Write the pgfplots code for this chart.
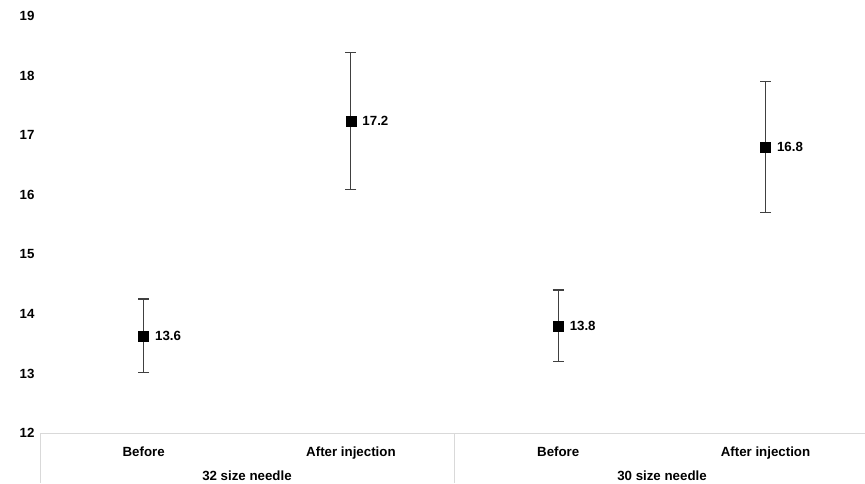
\documentclass[border=0pt]{standalone}
\usepackage{pgfplots}
\pgfplotsset{compat=1.18}
\usepackage{fontspec}
\setmainfont{Liberation Sans}
\definecolor{sepgray}{HTML}{D9D9D9}
\definecolor{errgray}{HTML}{404040}
\begin{document}
\begin{tikzpicture}[x=1pt,y=1pt]
\begin{axis}[
  at={(40pt,50pt)}, anchor=south west,
  scale only axis, width=825pt, height=417pt,
  xmin=-0.5, xmax=3.48, ymin=12, ymax=19,
  axis line style={draw=none},
  ytick={12,...,19},
  xtick={0,1,2,3},
  xticklabels={Before,After injection,Before,After injection},
  major tick length=0pt,
  font=\fontsize{13.3pt}{15pt}\selectfont\bfseries,
  /pgf/number format/assume math mode=true,
  yticklabel style={xshift=-2pt},
  xticklabel style={yshift=-10pt},
  clip=false,
]
\addplot[only marks, mark=square*, mark size=5pt, black,
  error bars/.cd, y dir=both, y explicit,
  error bar style={errgray, line width=0.9pt},
  error mark options={rotate=90, errgray, line width=1.3pt, mark size=5.5pt},
] coordinates {
  (0,13.63) +- (0,0.62)
  (1,17.24) +- (0,1.15)
  (2,13.80) +- (0,0.60)
  (3,16.80) +- (0,1.10)
};
\node[anchor=west] at ([xshift=8pt]axis cs:0,13.63) {13.6};
\node[anchor=west] at ([xshift=8pt]axis cs:1,17.24) {17.2};
\node[anchor=west] at ([xshift=8pt]axis cs:2,13.80) {13.8};
\node[anchor=west] at ([xshift=8pt]axis cs:3,16.80) {16.8};
\end{axis}
\draw[sepgray, line width=1pt] (40,0) -- (40,50) -- (865,50);
\draw[sepgray, line width=1pt] (454.6,0) -- (454.6,50);
\node[font=\fontsize{13.3pt}{15pt}\selectfont\bfseries] at (247,7) {32 size needle};
\node[font=\fontsize{13.3pt}{15pt}\selectfont\bfseries] at (662,7) {30 size needle};
\pgfresetboundingbox
\useasboundingbox (0,0) rectangle (865,483);
\end{tikzpicture}
\end{document}
